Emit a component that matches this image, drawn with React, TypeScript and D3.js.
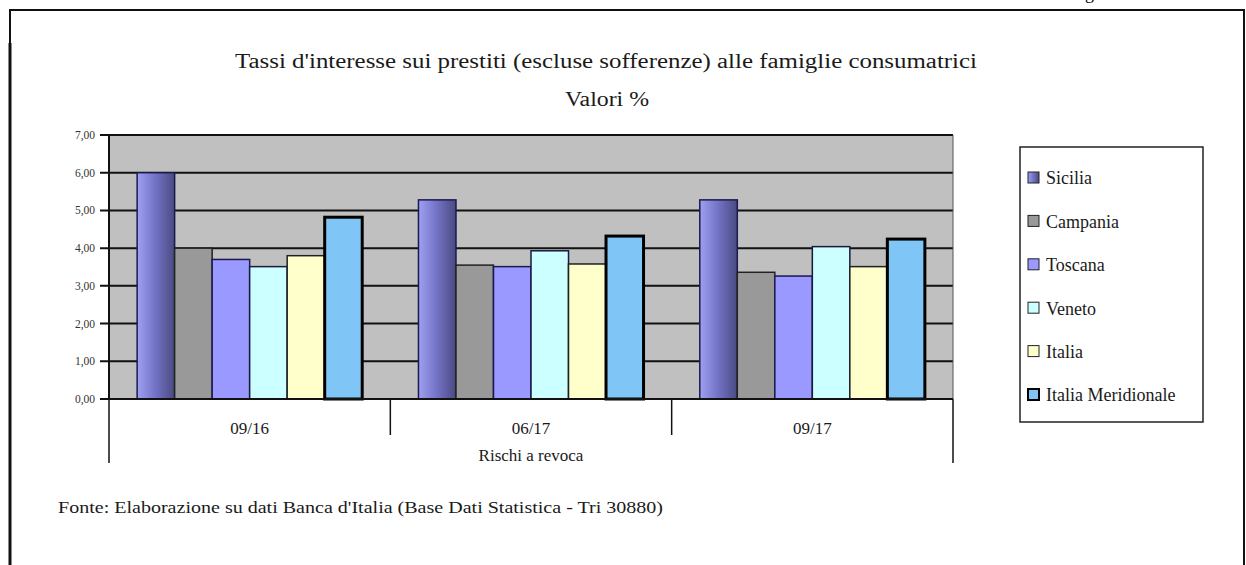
import * as d3 from 'd3';

const categories = ['09/16', '06/17', '09/17'];
const seriesNames = ['Sicilia', 'Campania', 'Toscana', 'Veneto', 'Italia', 'Italia Meridionale'];
const sicilia = [6.0, 5.28, 5.28];
const campania = [4.0, 3.55, 3.36];
const toscana = [3.7, 3.51, 3.26];
const veneto = [3.51, 3.93, 4.04];
const italia = [3.8, 3.58, 3.51];
const italiaMeridionale = [4.82, 4.32, 4.24];
const yTicks = [0, 1, 2, 3, 4, 5, 6, 7];

const seriesValues = [sicilia, campania, toscana, veneto, italia, italiaMeridionale];
const fills = ['url(#sicGrad)', '#999999', '#9999ff', '#ccffff', '#ffffcc', '#7fc6f6'];
const strokes = ['#1a1a50', '#222222', '#1a1a50', '#1a1a40', '#202020', '#000000'];
const strokeW = [1.5, 1.5, 1.5, 1.5, 1.5, 3];

const serif = '"Liberation Serif", "DejaVu Serif", serif';

const App = () => {
  const left = 109, right = 953, top = 135, bottom = 399;

  const x0 = d3.scaleBand().domain(categories).range([left, right]).padding(0);
  const bw = x0.bandwidth();
  const x1 = d3.scaleBand().domain(seriesNames).range([bw * 0.1, bw * 0.9]).padding(0);
  const y = d3.scaleLinear().domain([0, 7]).range([bottom, top]);

  const fmt = (v: number) => v.toFixed(2).replace('.', ',');

  return (
    <svg width={1246} height={565} style={{ position: 'absolute', left: 0, top: 0, background: '#fff' }}>
      <defs>
        <linearGradient id="sicGrad" x1="0" x2="1" y1="0" y2="0">
          <stop offset="0" stopColor="#a0a0f2" />
          <stop offset="0.5" stopColor="#7272c4" />
          <stop offset="1" stopColor="#4a4a80" />
        </linearGradient>
      </defs>

      {/* cut-off glyph from the page above */}
      <text x={1085} y={-1} fontFamily={serif} fontSize={18} fill="#000">g</text>

      {/* outer frame */}
      <path d="M10,565 V10 H1244 V565" fill="none" stroke="#111" strokeWidth={2} />
      <line x1={10} x2={10} y1={43} y2={565} stroke="#111" strokeWidth={3} />

      {/* titles */}
      <text x={606} y={68} textAnchor="middle" fontFamily={serif} fontSize={20} fill="#1a1a1a"
        textLength={742} lengthAdjust="spacingAndGlyphs">
        Tassi d'interesse sui prestiti (escluse sofferenze) alle famiglie consumatrici
      </text>
      <text x={607} y={106} textAnchor="middle" fontFamily={serif} fontSize={20} fill="#1a1a1a"
        textLength={84} lengthAdjust="spacingAndGlyphs">Valori %</text>

      {/* plot background */}
      <rect x={left} y={top} width={right - left} height={bottom - top} fill="#c0c0c0" />

      {/* gridlines and y ticks */}
      {yTicks.map(t => (
        <g key={t}>
          <line x1={100} x2={right} y1={y(t)} y2={y(t)} stroke="#111" strokeWidth={2} />
          <text x={95} y={y(t)} dy="0.35em" textAnchor="end" fontFamily={serif} fontSize={11.5} fill="#333">{fmt(t)}</text>
        </g>
      ))}
      <line x1={left} x2={left} y1={top} y2={bottom} stroke="#111" strokeWidth={2} />
      <line x1={right} x2={right} y1={top} y2={bottom} stroke="#555" strokeWidth={1} />

      {/* bars */}
      {categories.map((c, ci) => (
        <g key={c} transform={`translate(${x0(c)},0)`}>
          {seriesNames.map((s, si) => {
            const v = seriesValues[si][ci];
            return (
              <rect key={s} x={x1(s)} y={y(v)} width={x1.bandwidth()} height={y(0) - y(v)}
                fill={fills[si]} stroke={strokes[si]} strokeWidth={strokeW[si]} />
            );
          })}
        </g>
      ))}
      <line x1={100} x2={right} y1={bottom} y2={bottom} stroke="#111" strokeWidth={2} />

      {/* category axis */}
      {[left, right].map(xx => (
        <line key={xx} x1={xx} x2={xx} y1={bottom} y2={463} stroke="#111" strokeWidth={1.5} />
      ))}
      {categories.slice(1).map(c => (
        <line key={c} x1={x0(c)} x2={x0(c)} y1={bottom} y2={435} stroke="#111" strokeWidth={1.5} />
      ))}
      {categories.map(c => (
        <text key={c} x={(x0(c) as number) + bw / 2} y={434} textAnchor="middle" fontFamily={serif} fontSize={17} fill="#1a1a1a">{c}</text>
      ))}
      <text x={(left + right) / 2} y={461} textAnchor="middle" fontFamily={serif} fontSize={17} fill="#1a1a1a">Rischi a revoca</text>

      {/* legend */}
      <rect x={1020} y={147} width={183} height={275} fill="#fff" stroke="#222" strokeWidth={1.5} />
      {seriesNames.map((s, i) => {
        const cy = 178 + i * 43.4;
        return (
          <g key={s}>
            <rect x={1028} y={cy - 6} width={11} height={11} fill={fills[i]} stroke={i === 5 ? '#000' : '#222'} strokeWidth={i === 5 ? 2 : 1} />
            <text x={1046} y={cy} dy="0.35em" fontFamily={serif} fontSize={18} fill="#1a1a1a">{s}</text>
          </g>
        );
      })}

      {/* source */}
      <text x={58} y={513} fontFamily={serif} fontSize={16} fill="#1a1a1a" textLength={605} lengthAdjust="spacingAndGlyphs">
        Fonte: Elaborazione su dati Banca d'Italia (Base Dati Statistica - Tri 30880)
      </text>
    </svg>
  );
};

export default App;
